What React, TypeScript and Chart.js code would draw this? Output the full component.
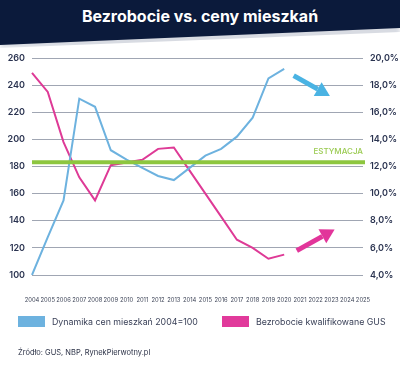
import React, { useEffect, useRef } from "react";
import { Chart, registerables } from "chart.js";

Chart.register(...registerables);

const years = ["2004","2005","2006","2007","2008","2009","2010","2011","2012","2013","2014","2015","2016","2017","2018","2019","2020","2021","2022","2023","2024","2025"];
const cenyMieszkan = [100, 128, 155, 230, 224, 192, 185, 179, 173, 170, 179, 188, 193, 202, 216, 245, 252];
const bezrobocie = [18.9, 17.5, 13.8, 11.2, 9.5, 12.1, 12.3, 12.5, 13.3, 13.4, 11.7, 10.0, 8.3, 6.6, 6.0, 5.2, 5.5];
const leftTicks = { min: 100, max: 260, step: 20 };
const rightTicks = { min: 4, max: 20, step: 2 };
const estymacjaLevel = 183.2;
// arrows in data space: [xIndex, value]
const blueArrow = { from: [16.6, 247], to: [18.9, 232] };
const pinkArrow = { from: [16.8, 5.8], to: [19.2, 7.35] };

const BLUE = "#6db2df";
const PINK = "#de3a96";
const GREEN = "#8dc63f";
const NAVY = "#0b1a3b";
const FONT = "Inter, 'Noto Sans', sans-serif";

function drawArrow(ctx: CanvasRenderingContext2D, x1: number, y1: number, x2: number, y2: number, color: string) {
  const ang = Math.atan2(y2 - y1, x2 - x1);
  const headLen = 14;
  const headW = 8;
  const bx = x2 - headLen * Math.cos(ang);
  const by = y2 - headLen * Math.sin(ang);
  ctx.save();
  ctx.strokeStyle = color;
  ctx.fillStyle = color;
  ctx.lineWidth = 5;
  ctx.lineCap = "butt";
  ctx.beginPath();
  ctx.moveTo(x1, y1);
  ctx.lineTo(bx, by);
  ctx.stroke();
  ctx.beginPath();
  ctx.moveTo(x2, y2);
  ctx.lineTo(bx + headW * Math.sin(ang), by - headW * Math.cos(ang));
  ctx.lineTo(bx - headW * Math.sin(ang), by + headW * Math.cos(ang));
  ctx.closePath();
  ctx.fill();
  ctx.restore();
}

const overlayPlugin = {
  id: "overlay",
  afterDatasetsDraw(chart: any) {
    const { ctx, chartArea, scales } = chart;
    const x = scales.x, y = scales.y, y1 = scales.y1;
    const gy = y.getPixelForValue(estymacjaLevel);
    ctx.save();
    ctx.strokeStyle = GREEN;
    ctx.lineWidth = 4;
    ctx.beginPath();
    ctx.moveTo(chartArea.left, gy);
    ctx.lineTo(chartArea.right + 2, gy);
    ctx.stroke();
    ctx.fillStyle = "#9bcb52";
    ctx.font = `500 8px ${FONT}`;
    ctx.textAlign = "right";
    ctx.textBaseline = "middle";
    ctx.fillText("ESTYMACJA", chartArea.right, gy - 11);
    ctx.restore();
    drawArrow(ctx,
      x.getPixelForValue(blueArrow.from[0]), y.getPixelForValue(blueArrow.from[1]),
      x.getPixelForValue(blueArrow.to[0]), y.getPixelForValue(blueArrow.to[1]), "#4ab3e3");
    drawArrow(ctx,
      x.getPixelForValue(pinkArrow.from[0]), y1.getPixelForValue(pinkArrow.from[1]),
      x.getPixelForValue(pinkArrow.to[0]), y1.getPixelForValue(pinkArrow.to[1]), "#e2359a");
  },
};

export default function App() {
  const ref = useRef<HTMLCanvasElement>(null);
  useEffect(() => {
    document.body.style.margin = "0";
    const chart = new Chart(ref.current!, {
      type: "line",
      data: {
        labels: years,
        datasets: [
          { label: "Dynamika cen mieszkań 2004=100", data: cenyMieszkan, borderColor: BLUE, borderWidth: 2, pointRadius: 0, yAxisID: "y", tension: 0 },
          { label: "Bezrobocie kwalifikowane GUS", data: bezrobocie, borderColor: PINK, borderWidth: 2, pointRadius: 0, yAxisID: "y1", tension: 0 },
        ],
      },
      options: {
        animation: false,
        responsive: false,
        layout: { padding: { top: 58, left: 0, right: 0, bottom: 0 } },
        plugins: { legend: { display: false }, tooltip: { enabled: false } },
        scales: {
          x: {
            offset: false,
            grid: { display: false },
            border: { display: false },
            ticks: { color: "#3d4457", font: { size: 5.8, family: FONT }, padding: 14, maxRotation: 0, autoSkip: false },
            afterFit: (s: any) => { s.height = 94; },
          },
          y: {
            position: "left",
            min: leftTicks.min, max: leftTicks.max,
            ticks: { stepSize: leftTicks.step, color: "#2a3350", font: { size: 9, weight: "600", family: FONT }, padding: 7 },
            grid: { color: "#a0a6b3", lineWidth: 1, drawTicks: false },
            border: { display: false },
            afterFit: (s: any) => { s.width = 32; },
          },
          y1: {
            position: "right",
            min: rightTicks.min, max: rightTicks.max,
            ticks: { stepSize: rightTicks.step, color: "#2a3350", font: { size: 9, weight: "600", family: FONT }, padding: 7,
              callback: (v: any) => Number(v).toFixed(1).replace(".", ",") + "%" },
            grid: { display: false, drawTicks: false },
            border: { display: false },
            afterFit: (s: any) => { s.width = 37; },
          },
        },
      },
      plugins: [overlayPlugin],
    });
    return () => chart.destroy();
  }, []);

  return (
    <div style={{ position: "fixed", left: 0, top: 0, width: 400, height: 369, background: "#fff", overflow: "hidden", fontFamily: FONT }}>
      <div style={{ position: "absolute", left: 0, top: 2, width: 400, height: 46, background: "#d8dbe2", filter: "blur(2px)", clipPath: "polygon(0 0, 100% 0, 100% 30px, 0 46px)" }} />
      <div style={{ position: "absolute", left: 0, top: 0, width: 400, height: 46, background: NAVY, clipPath: "polygon(0 0, 100% 0, 100% 28px, 0 45px)" }} />
      <div style={{ position: "absolute", left: 0, top: 6, width: 400, textAlign: "center", color: "#fff", fontWeight: 700, fontSize: 16, lineHeight: "20px" }}>Bezrobocie vs. ceny mieszkań</div>
      <canvas ref={ref} width={400} height={369} style={{ position: "absolute", left: 0, top: 0 }} />
      <div style={{ position: "absolute", left: 18, top: 316, width: 27, height: 11, background: BLUE }} />
      <div style={{ position: "absolute", left: 52, top: 315, fontSize: 8.8, lineHeight: "13px", color: "#3a4158" }}>Dynamika cen mieszkań 2004=100</div>
      <div style={{ position: "absolute", left: 222, top: 316, width: 27, height: 11, background: "#e13a9b" }} />
      <div style={{ position: "absolute", left: 256, top: 315, fontSize: 8.8, lineHeight: "13px", color: "#3a4158" }}>Bezrobocie kwalifikowane GUS</div>
      <div style={{ position: "absolute", left: 18, top: 348, fontSize: 7.5, lineHeight: "10px", color: "#2a3045" }}>Źródło: GUS, NBP, RynekPierwotny.pl</div>
    </div>
  );
}
